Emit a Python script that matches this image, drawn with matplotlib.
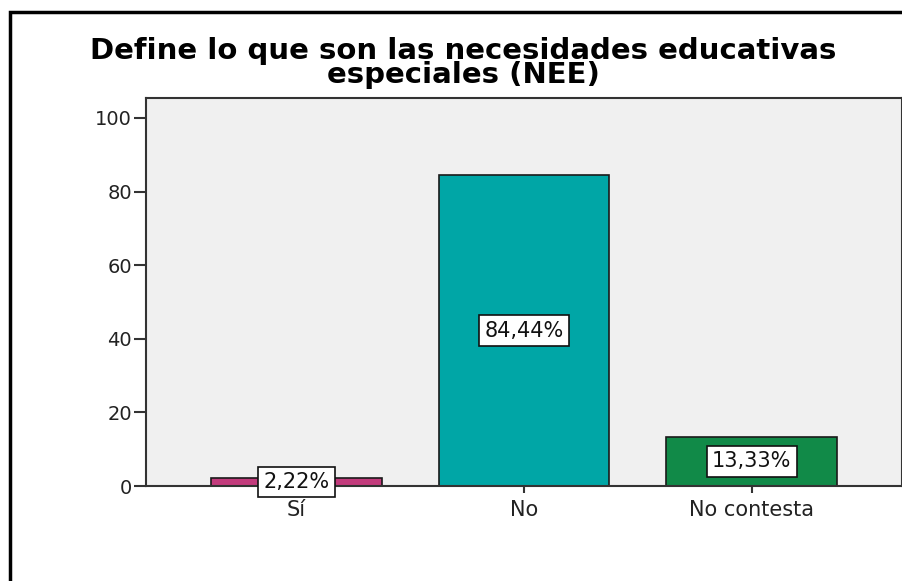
import matplotlib.pyplot as plt
from matplotlib.patches import Rectangle

# ── Data ─────────────────────────────────────────────────────
categories = ["Sí", "No", "No contesta"]
percentages = [2.22, 84.44, 13.33]
value_labels = ["2,22%", "84,44%", "13,33%"]
bar_colors = ["#C23B7C", "#00A6A6", "#118A48"]
y_ticks = [0, 20, 40, 60, 80, 100]

# ── Figure ───────────────────────────────────────────────────
fig = plt.figure(figsize=(9.03, 5.81), dpi=100)
ax = fig.add_axes([146 / 903, 1 - 486 / 581, (902 - 146) / 903, (486 - 98) / 581])
ax.set_facecolor("#F0F0F0")

x = list(range(len(categories)))
ax.bar(x, percentages, width=0.75, color=bar_colors,
       edgecolor="#1a1a1a", linewidth=1.2, zorder=2)

for xi, val, lab in zip(x, percentages, value_labels):
    ax.text(xi, val / 2, lab, ha="center", va="center", fontsize=15,
            color="#111111", zorder=3,
            bbox=dict(boxstyle="square,pad=0.25", facecolor="white",
                      edgecolor="#111111", linewidth=1.2))

ax.set_xlim(-0.66, 2.66)
ax.set_ylim(0, 105.4)
ax.set_xticks(x)
ax.set_xticklabels(categories, fontsize=15, color="#222222")
ax.set_yticks(y_ticks)
ax.set_yticklabels([str(v) for v in y_ticks], fontsize=14, color="#222222")
ax.tick_params(axis="y", length=9, width=1.5, color="#333333", pad=1)
ax.tick_params(axis="x", length=5, width=1.5, color="#333333", pad=5)
for s in ax.spines.values():
    s.set_color("#333333")
    s.set_linewidth(1.5)

fig.text(463 / 903, 1 - 63 / 581,
         "Define lo que son las necesidades educativas\nespeciales (NEE)",
         ha="center", va="center", fontsize=21, fontweight="bold",
         family="DejaVu Sans", linespacing=0.82)

# outer frame (cut off at right and bottom)
fig.patches.append(Rectangle((10 / 903, -0.5), 2, 1 - 12 / 581 + 0.5,
                             transform=fig.transFigure, fill=False,
                             edgecolor="black", linewidth=2.5))

fig.savefig("out.png", dpi=100)
